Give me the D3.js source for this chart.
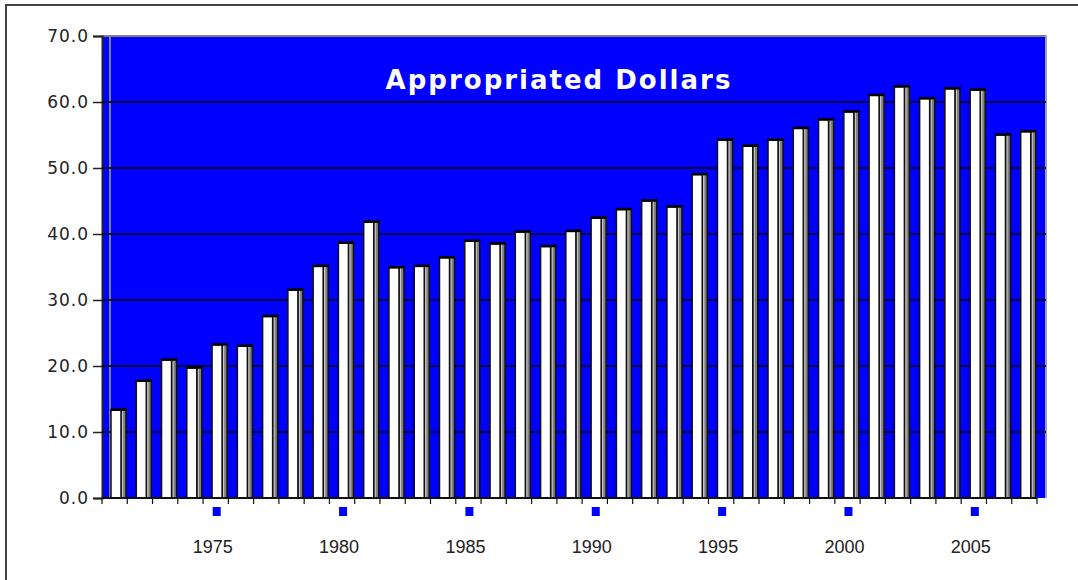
<!DOCTYPE html>
<html>
<head>
<meta charset="utf-8">
<script src="https://cdn.jsdelivr.net/npm/d3@7"></script>
<style>
  body { margin: 0; background: #fff; }
  svg { display: block; }
</style>
</head>
<body>
<svg id="chart" width="1078" height="580"></svg>
<script>
// appropriated dollars per year
const years = d3.range(1971, 2008);
const values = [13.3, 17.7, 20.9, 19.7, 23.2, 23.0, 27.5, 31.5, 35.1, 38.6,
                41.8, 34.9, 35.1, 36.4, 38.9, 38.5, 40.3, 38.1, 40.4, 42.4,
                43.7, 45.0, 44.1, 49.0, 54.2, 53.3, 54.2, 56.0, 57.3, 58.5,
                61.0, 62.3, 60.5, 62.0, 61.8, 55.0, 55.5];
const labelYears = [1975, 1980, 1985, 1990, 1995, 2000, 2005];
const yTicks = [0, 10, 20, 30, 40, 50, 60, 70];
const title = "Appropriated Dollars";

const svg = d3.select("#chart");

// plot box (note: "top" clashes with window.top)
const plotL = 102, plotR = 1037, wallR = 1046;
const plotT = 36, plotB = 498;

const x = d3.scaleBand().domain(years).range([plotL, plotR]).padding(0);
const y = d3.scaleLinear().domain([0, 70]).range([plotB, plotT]);

// outer frame (only top and left edges fall inside the picture)
svg.append("rect")
  .attr("x", 6).attr("y", 5)
  .attr("width", 1100).attr("height", 600)
  .attr("fill", "none").attr("stroke", "#444").attr("stroke-width", 2);

// plot background
svg.append("rect")
  .attr("x", plotL).attr("y", plotT)
  .attr("width", wallR - plotL).attr("height", plotB - plotT)
  .attr("fill", "#0000ff");

// gray wall edges
svg.append("line")
  .attr("x1", plotL).attr("x2", wallR).attr("y1", plotT).attr("y2", plotT)
  .attr("stroke", "#808080").attr("stroke-width", 2);
svg.append("line")
  .attr("x1", wallR).attr("x2", wallR).attr("y1", plotT).attr("y2", plotB)
  .attr("stroke", "#a0a0a0").attr("stroke-width", 2);
svg.append("line")
  .attr("x1", 110).attr("x2", 110).attr("y1", plotT).attr("y2", plotB)
  .attr("stroke", "#808080").attr("stroke-width", 2);

// y axis with gridlines
const yAxis = svg.append("g")
  .attr("transform", `translate(${plotL},0)`)
  .call(d3.axisLeft(y).tickValues(yTicks).tickFormat(d3.format(".1f")).tickSize(9).tickPadding(4));
yAxis.select(".domain").attr("stroke", "#222").attr("stroke-width", 2);
yAxis.selectAll(".tick line").attr("stroke", "#222").attr("stroke-width", 1.5);
yAxis.selectAll(".tick text")
  .attr("font-family", "DejaVu Sans, Verdana, sans-serif")
  .attr("font-size", 17)
  .attr("letter-spacing", 1)
  .attr("fill", "#222");

svg.append("g")
  .selectAll("line")
  .data(yTicks.filter(d => d > 0 && d < 70))
  .join("line")
  .attr("x1", plotL).attr("x2", wallR)
  .attr("y1", d => y(d)).attr("y2", d => y(d))
  .attr("stroke", "#000").attr("stroke-width", 1.5);

// title
svg.append("text")
  .attr("x", 559).attr("y", 89)
  .attr("text-anchor", "middle")
  .attr("font-family", "DejaVu Sans, Verdana, sans-serif")
  .attr("font-weight", "bold")
  .attr("font-size", 26)
  .attr("letter-spacing", 2)
  .attr("fill", "#fff")
  .text(title);

// bars: white front, gray side, dark top
const bars = svg.append("g").selectAll("g")
  .data(years.map((yr, i) => ({ yr, v: values[i] })))
  .join("g")
  .attr("transform", d => `translate(${x(d.yr) + 9},0)`);

bars.append("rect")
  .attr("x", 10).attr("y", d => y(d.v) - 1)
  .attr("width", 5).attr("height", d => plotB - y(d.v) + 1)
  .attr("fill", "#808080").attr("stroke", "#111").attr("stroke-width", 1.5);
bars.append("line")
  .attr("x1", 11.5).attr("x2", 11.5)
  .attr("y1", d => y(d.v)).attr("y2", plotB)
  .attr("stroke", "#c8c8c8").attr("stroke-width", 1.2);
bars.append("rect")
  .attr("x", 0).attr("y", d => y(d.v))
  .attr("width", 10).attr("height", d => plotB - y(d.v))
  .attr("fill", "#fff").attr("stroke", "#111").attr("stroke-width", 1.5);
bars.append("line")
  .attr("x1", -0.5).attr("x2", 15.5)
  .attr("y1", d => y(d.v) - 0.5).attr("y2", d => y(d.v) - 0.5)
  .attr("stroke", "#000").attr("stroke-width", 2.5);

// x axis line and ticks at band edges
svg.append("line")
  .attr("x1", plotL).attr("x2", plotR).attr("y1", plotB).attr("y2", plotB)
  .attr("stroke", "#111").attr("stroke-width", 2);
svg.append("g")
  .selectAll("line")
  .data(years.map(d => x(d)).concat([plotR]))
  .join("line")
  .attr("x1", d => d).attr("x2", d => d)
  .attr("y1", plotB).attr("y2", plotB + 6)
  .attr("stroke", "#111").attr("stroke-width", 1.2);

// label markers and year labels
svg.append("g")
  .selectAll("rect")
  .data(labelYears)
  .join("rect")
  .attr("x", d => x(d) + x.bandwidth() / 2 - 3)
  .attr("y", 507)
  .attr("width", 8).attr("height", 9)
  .attr("fill", "#0000ff");

svg.append("g")
  .selectAll("text")
  .data(labelYears)
  .join("text")
  .attr("x", d => x(d) + x.bandwidth() / 2 - 3)
  .attr("y", 553)
  .attr("text-anchor", "middle")
  .attr("font-family", "Liberation Sans, Arial, sans-serif")
  .attr("font-size", 18)
  .attr("fill", "#222")
  .text(d => d);
</script>
</body>
</html>
